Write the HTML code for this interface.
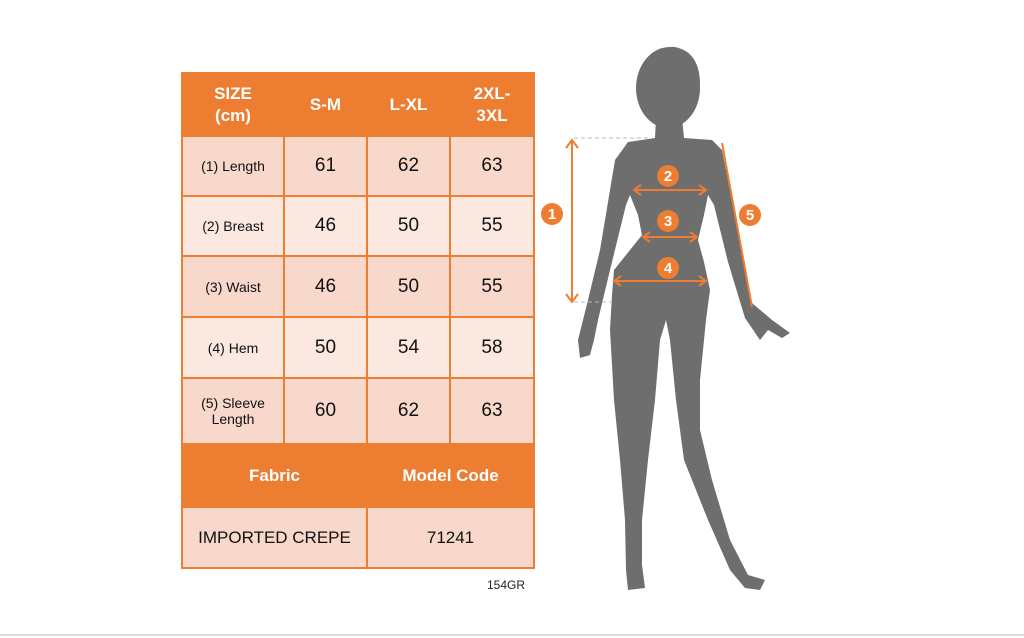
<!DOCTYPE html>
<html><head><meta charset="utf-8"><style>
body{margin:0;width:1024px;height:638px;background:#fff;position:relative;overflow:hidden;font-family:"Liberation Sans","DejaVu Sans",sans-serif}
.t{position:absolute;left:181px;top:72px;width:352px;border-collapse:collapse;table-layout:fixed}
.t td{border:2px solid #ed7d31;text-align:center;padding:0;color:#111}
.h td{background:#ed7d31;color:#fff;font-weight:bold;font-size:17px;line-height:22px}
.a td{background:#f8d8cb}.b td{background:#fbe8e1}
.n{font-size:19px}.l{font-size:14px}
</style></head><body>
<table class="t">
<colgroup><col style="width:102px"><col style="width:83px"><col style="width:83px"><col style="width:84px"></colgroup>
<tr class="h" style="height:63px"><td>SIZE<br>(cm)</td><td>S-M</td><td>L-XL</td><td>2XL-<br>3XL</td></tr>
<tr class="a" style="height:60px"><td class="l">(1) Length</td><td class="n">61</td><td class="n">62</td><td class="n">63</td></tr>
<tr class="b" style="height:60px"><td class="l">(2) Breast</td><td class="n">46</td><td class="n">50</td><td class="n">55</td></tr>
<tr class="a" style="height:61px"><td class="l">(3) Waist</td><td class="n">46</td><td class="n">50</td><td class="n">55</td></tr>
<tr class="b" style="height:61px"><td class="l">(4) Hem</td><td class="n">50</td><td class="n">54</td><td class="n">58</td></tr>
<tr class="a" style="height:66px"><td class="l">(5) Sleeve<br>Length</td><td class="n">60</td><td class="n">62</td><td class="n">63</td></tr>
<tr class="h" style="height:63px"><td colspan="2">Fabric</td><td colspan="2">Model Code</td></tr>
<tr class="a" style="height:61px"><td colspan="2" style="font-size:17px">IMPORTED CREPE</td><td colspan="2" style="font-size:17px">71241</td></tr>
</table>
<div style="position:absolute;left:487px;top:578px;font-size:12px;color:#222">154GR</div>
<div style="position:absolute;left:0;top:634px;width:1024px;height:2px;background:#ddd"></div>
<svg width="1024" height="638" style="position:absolute;left:0;top:0">
<g fill="#6e6e6e">
<ellipse cx="668" cy="88" rx="32" ry="40"/>
<path d="M640 70 Q650 45 675 47 Q700 52 700 85 L693 110 L640 105 Z"/>
<path d="M656 118 L682 118 L684 138 L712 140 L722 150 L730 190 L738 230 L752 303 L772 320 L790 333 L782 338 L768 330 L760 340 L745 318 L728 262 L714 205 L708 195 L704 215 L698 240 L704 262 L710 290 L706 320 L700 380 L700 430 L712 480 L730 540 L748 575 L765 580 L760 590 L745 588 L730 570 L708 520 L684 460 L676 400 L670 340 L666 320 L660 340 L655 400 L648 460 L642 520 L642 565 L645 588 L628 590 L626 570 L625 520 L620 460 L614 400 L610 330 L612 295 L614 270 L630 250 L642 235 L638 215 L630 195 L626 205 L612 262 L598 320 L594 340 L590 355 L580 358 L578 340 L588 300 L600 250 L610 190 L615 160 L628 142 L655 138 Z"/>
</g>
<g stroke="#ed7d31" fill="none" stroke-width="2">
<line x1="572" y1="140" x2="572" y2="302"/>
<path d="M566 148 L572 140 L578 148 M566 294 L572 302 L578 294"/>
<line x1="722" y1="143" x2="752" y2="307"/>
<line x1="634" y1="190" x2="706" y2="190"/><path d="M641 185 L634 190 L641 195 M699 185 L706 190 L699 195"/>
<line x1="643" y1="237" x2="697" y2="237"/><path d="M650 232 L643 237 L650 242 M690 232 L697 237 L690 242"/>
<line x1="614" y1="281" x2="706" y2="281"/><path d="M621 276 L614 281 L621 286 M699 276 L706 281 L699 286"/>
</g>
<g stroke="#bbb" stroke-dasharray="4 3" stroke-width="1"><line x1="574" y1="138" x2="650" y2="138"/><line x1="574" y1="302" x2="612" y2="302"/></g>
<g fill="#ed7d31"><circle cx="552" cy="214" r="11"/><circle cx="668" cy="176" r="11"/><circle cx="668" cy="221" r="11"/><circle cx="668" cy="268" r="11"/><circle cx="750" cy="215" r="11"/></g>
<g fill="#fff" font-size="15" font-weight="bold" text-anchor="middle" font-family="Liberation Sans,sans-serif"><text x="552" y="219">1</text><text x="668" y="181">2</text><text x="668" y="226">3</text><text x="668" y="273">4</text><text x="750" y="220">5</text></g>
</svg>
</body></html>
